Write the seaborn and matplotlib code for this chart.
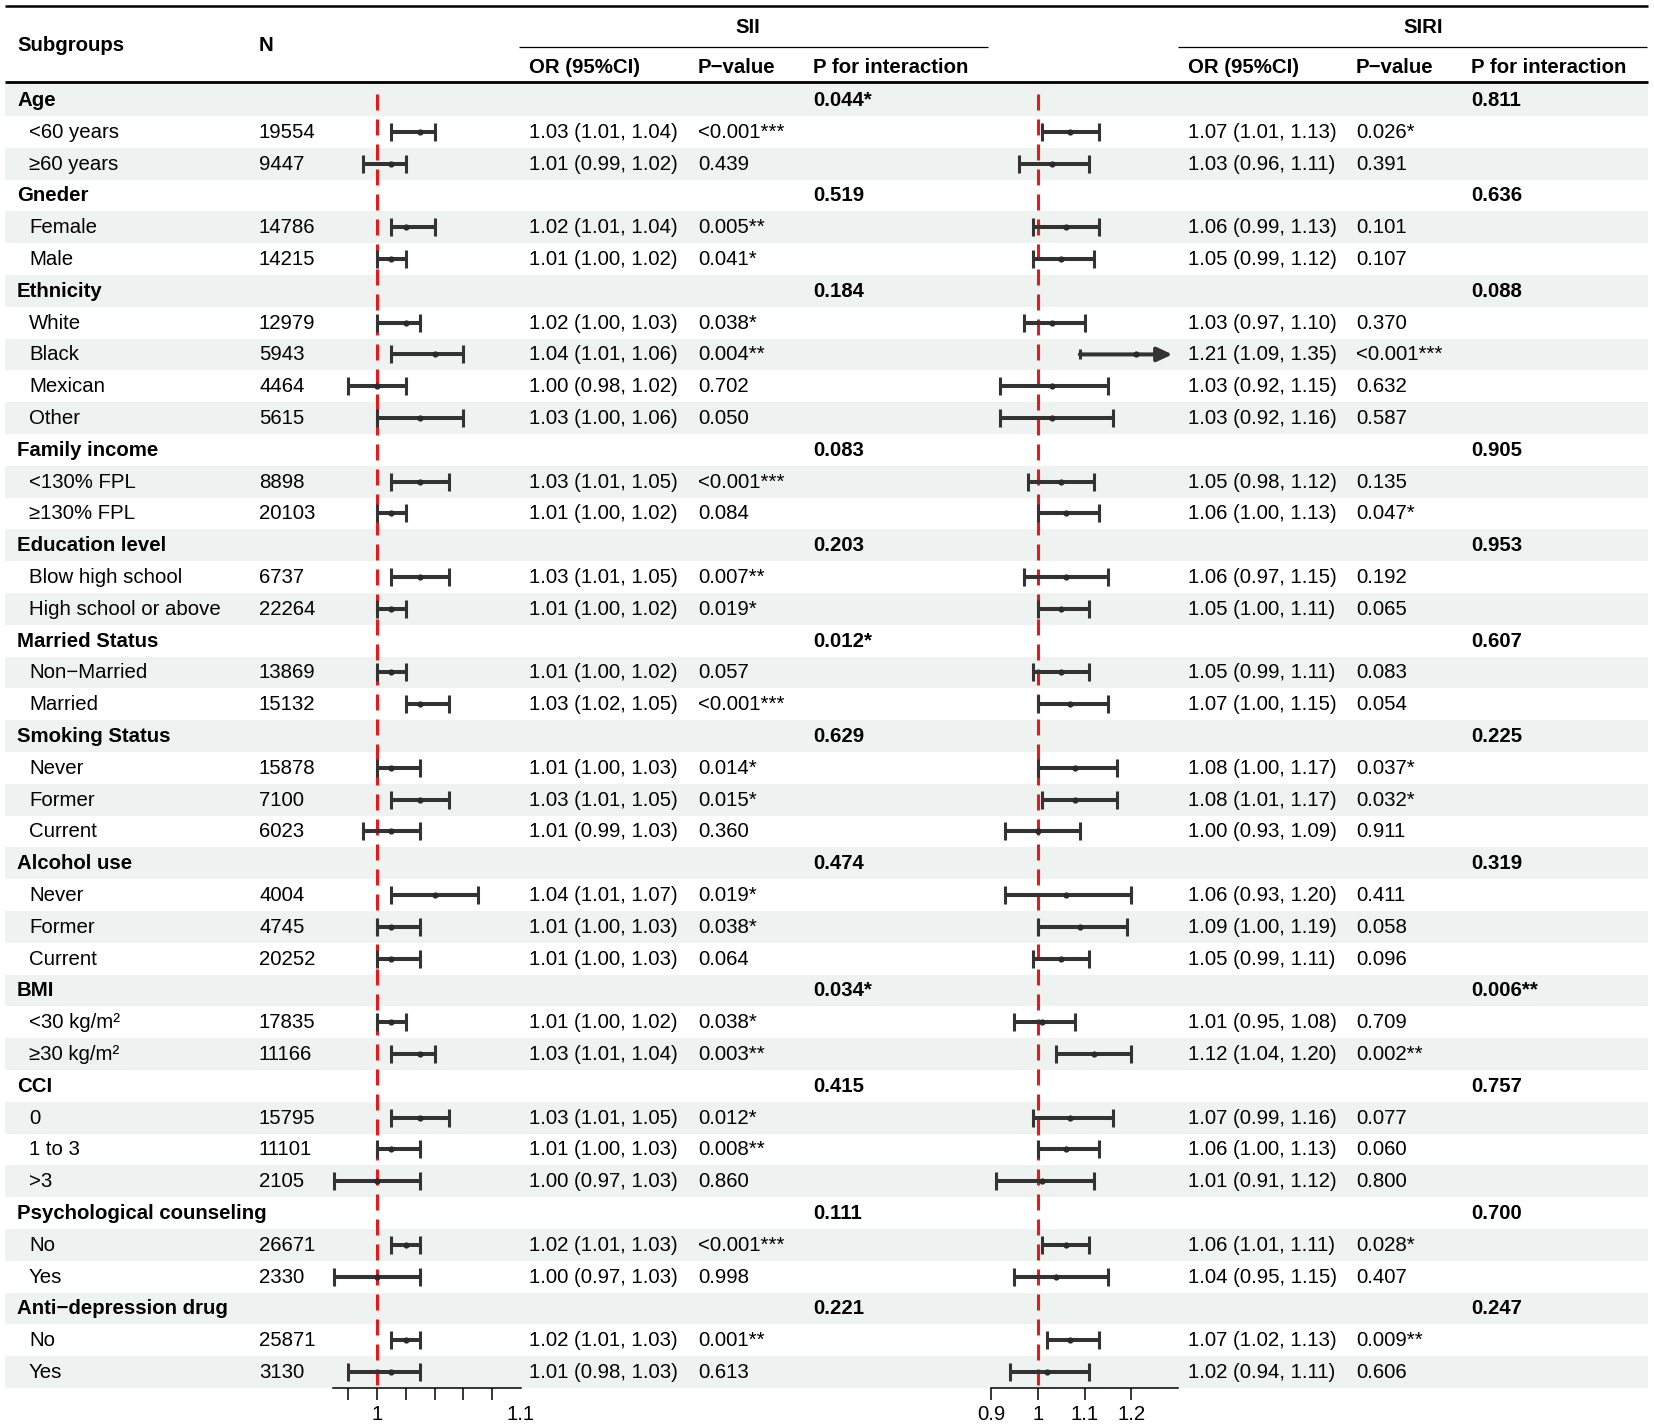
import numpy as np
import pandas as pd
import matplotlib
matplotlib.use("Agg")
import matplotlib.pyplot as plt
import seaborn as sns

# ---------------- data ----------------
subgroups = ["Age", "<60 years", "≥60 years",
             "Gneder", "Female", "Male",
             "Ethnicity", "White", "Black", "Mexican", "Other",
             "Family income", "<130% FPL", "≥130% FPL",
             "Education level", "Blow high school", "High school or above",
             "Married Status", "Non−Married", "Married",
             "Smoking Status", "Never", "Former", "Current",
             "Alcohol use", "Never", "Former", "Current",
             "BMI", "<30 kg/m²", "≥30 kg/m²",
             "CCI", "0", "1 to 3", ">3",
             "Psychological counseling", "No", "Yes",
             "Anti−depression drug", "No", "Yes"]
is_group = [1, 0, 0, 1, 0, 0, 1, 0, 0, 0, 0, 1, 0, 0, 1, 0, 0, 1, 0, 0, 1, 0, 0, 0,
            1, 0, 0, 0, 1, 0, 0, 1, 0, 0, 0, 1, 0, 0, 1, 0, 0]
n_vals = ["", "19554", "9447", "", "14786", "14215", "", "12979", "5943", "4464", "5615",
          "", "8898", "20103", "", "6737", "22264", "", "13869", "15132",
          "", "15878", "7100", "6023", "", "4004", "4745", "20252",
          "", "17835", "11166", "", "15795", "11101", "2105",
          "", "26671", "2330", "", "25871", "3130"]

sii_or = [None, 1.03, 1.01, None, 1.02, 1.01, None, 1.02, 1.04, 1.00, 1.03,
          None, 1.03, 1.01, None, 1.03, 1.01, None, 1.01, 1.03,
          None, 1.01, 1.03, 1.01, None, 1.04, 1.01, 1.01,
          None, 1.01, 1.03, None, 1.03, 1.01, 1.00, None, 1.02, 1.00, None, 1.02, 1.01]
sii_lo = [None, 1.01, 0.99, None, 1.01, 1.00, None, 1.00, 1.01, 0.98, 1.00,
          None, 1.01, 1.00, None, 1.01, 1.00, None, 1.00, 1.02,
          None, 1.00, 1.01, 0.99, None, 1.01, 1.00, 1.00,
          None, 1.00, 1.01, None, 1.01, 1.00, 0.97, None, 1.01, 0.97, None, 1.01, 0.98]
sii_hi = [None, 1.04, 1.02, None, 1.04, 1.02, None, 1.03, 1.06, 1.02, 1.06,
          None, 1.05, 1.02, None, 1.05, 1.02, None, 1.02, 1.05,
          None, 1.03, 1.05, 1.03, None, 1.07, 1.03, 1.03,
          None, 1.02, 1.04, None, 1.05, 1.03, 1.03, None, 1.03, 1.03, None, 1.03, 1.03]
sii_p = ["", "<0.001***", "0.439", "", "0.005**", "0.041*", "", "0.038*", "0.004**", "0.702", "0.050",
         "", "<0.001***", "0.084", "", "0.007**", "0.019*", "", "0.057", "<0.001***",
         "", "0.014*", "0.015*", "0.360", "", "0.019*", "0.038*", "0.064",
         "", "0.038*", "0.003**", "", "0.012*", "0.008**", "0.860",
         "", "<0.001***", "0.998", "", "0.001**", "0.613"]
sii_pint = ["0.044*", "0.519", "0.184", "0.083", "0.203", "0.012*",
            "0.629", "0.474", "0.034*", "0.415", "0.111", "0.221"]

siri_or = [None, 1.07, 1.03, None, 1.06, 1.05, None, 1.03, 1.21, 1.03, 1.03,
           None, 1.05, 1.06, None, 1.06, 1.05, None, 1.05, 1.07,
           None, 1.08, 1.08, 1.00, None, 1.06, 1.09, 1.05,
           None, 1.01, 1.12, None, 1.07, 1.06, 1.01, None, 1.06, 1.04, None, 1.07, 1.02]
siri_lo = [None, 1.01, 0.96, None, 0.99, 0.99, None, 0.97, 1.09, 0.92, 0.92,
           None, 0.98, 1.00, None, 0.97, 1.00, None, 0.99, 1.00,
           None, 1.00, 1.01, 0.93, None, 0.93, 1.00, 0.99,
           None, 0.95, 1.04, None, 0.99, 1.00, 0.91, None, 1.01, 0.95, None, 1.02, 0.94]
siri_hi = [None, 1.13, 1.11, None, 1.13, 1.12, None, 1.10, 1.35, 1.15, 1.16,
           None, 1.12, 1.13, None, 1.15, 1.11, None, 1.11, 1.15,
           None, 1.17, 1.17, 1.09, None, 1.20, 1.19, 1.11,
           None, 1.08, 1.20, None, 1.16, 1.13, 1.12, None, 1.11, 1.15, None, 1.13, 1.11]
siri_p = ["", "0.026*", "0.391", "", "0.101", "0.107", "", "0.370", "<0.001***", "0.632", "0.587",
          "", "0.135", "0.047*", "", "0.192", "0.065", "", "0.083", "0.054",
          "", "0.037*", "0.032*", "0.911", "", "0.411", "0.058", "0.096",
          "", "0.709", "0.002**", "", "0.077", "0.060", "0.800",
          "", "0.028*", "0.407", "", "0.009**", "0.606"]
siri_pint = ["0.811", "0.636", "0.088", "0.905", "0.953", "0.607",
             "0.225", "0.319", "0.006**", "0.757", "0.700", "0.247"]

sii_ticks = [0.98, 1.00, 1.02, 1.04, 1.06, 1.08, 1.10]
sii_ticklabels = ["", "1", "", "", "", "", "1.1"]
siri_ticks = [0.9, 1.0, 1.1, 1.2]
siri_ticklabels = ["0.9", "1", "1.1", "1.2"]

# ---------------- style ----------------
sns.set_theme(style="white")
plt.rcParams['font.family'] = ['Liberation Sans', 'DejaVu Sans']
plt.rcParams['lines.scale_dashes'] = False
plt.rcParams['text.color'] = 'black'
plt.rcParams['xtick.color'] = 'black'

W, H = 1654, 1425
FS = 14.7
SHADE = "#EEF2F0"
INK = "#333333"
RED = "#E41A1C"
TOP = 84.1
ROWH = 31.8
NROW = len(subgroups)

fig = plt.figure(figsize=(W / 100, H / 100), dpi=100)
bg = fig.add_axes([0, 0, 1, 1])
bg.set_xlim(0, W)
bg.set_ylim(H, 0)
bg.axis("off")

def yrow(i):
    return TOP + (i + 0.5) * ROWH

# shading bands
for i in range(NROW):
    if i % 2 == 0:
        bg.fill_between([5, 1648], TOP + i * ROWH, TOP + (i + 1) * ROWH,
                        color=SHADE, linewidth=0, zorder=0)

# rules
bg.hlines(6, 5, 1648, color="black", lw=1.8)
bg.hlines(81.5, 5, 1648, color="black", lw=2.0)
bg.hlines(47, 519, 988, color="black", lw=0.9)
bg.hlines(47, 1178, 1647, color="black", lw=0.9)

# header text
hdr = dict(fontsize=FS, fontweight="bold", va="center", ha="left")
bg.text(17, 45, "Subgroups", **hdr)
bg.text(259, 45, "N", **hdr)
bg.text(748, 27, "SII", fontsize=FS, fontweight="bold", va="center", ha="center")
bg.text(1423, 27, "SIRI", fontsize=FS, fontweight="bold", va="center", ha="center")
for x0, lab in [(529, "OR (95%CI)"), (698, "P−value"), (813, "P for interaction"),
                (1188, "OR (95%CI)"), (1356, "P−value"), (1471, "P for interaction")]:
    bg.text(x0, 67, lab, **hdr)

def arr(v):
    return np.array([np.nan if a is None else a for a in v], dtype=float)

sii_or_a, sii_lo_a, sii_hi_a = arr(sii_or), arr(sii_lo), arr(sii_hi)
siri_or_a, siri_lo_a, siri_hi_a = arr(siri_or), arr(siri_lo), arr(siri_hi)

# table body text
g = 0
for i in range(NROW):
    y = yrow(i) + 0.5
    if is_group[i]:
        bg.text(17, y, subgroups[i], fontsize=FS, fontweight="bold", va="center", ha="left")
        bg.text(813, y, sii_pint[g], fontsize=FS, fontweight="bold", va="center", ha="left")
        bg.text(1471, y, siri_pint[g], fontsize=FS, fontweight="bold", va="center", ha="left")
        g += 1
    else:
        bg.text(29, y, subgroups[i], fontsize=FS, va="center", ha="left")
        bg.text(259, y, n_vals[i], fontsize=FS, va="center", ha="left")
        bg.text(529, y, f"{sii_or_a[i]:.2f} ({sii_lo_a[i]:.2f}, {sii_hi_a[i]:.2f})",
                fontsize=FS, va="center", ha="left")
        bg.text(698, y, sii_p[i], fontsize=FS, va="center", ha="left")
        bg.text(1188, y, f"{siri_or_a[i]:.2f} ({siri_lo_a[i]:.2f}, {siri_hi_a[i]:.2f})",
                fontsize=FS, va="center", ha="left")
        bg.text(1356, y, siri_p[i], fontsize=FS, va="center", ha="left")

# ---------------- forest panels ----------------
ax_bottom = 1 - 1388 / H
ax_height = (1388 - TOP) / H

def forest(x0, x1, est, lo, hi, xmin, xmax, ticks, ticklabels, hide_last_tick):
    ax = fig.add_axes([x0 / W, ax_bottom, (x1 - x0) / W, ax_height])
    ax.patch.set_alpha(0)
    rows = np.arange(NROW)
    mask = ~np.isnan(est)
    clipped = mask & (hi > xmax)
    normal = mask & ~clipped
    ax.errorbar(est[normal], rows[normal],
                xerr=[est[normal] - lo[normal], hi[normal] - est[normal]],
                fmt="none", ecolor=INK, elinewidth=2.9, capsize=6.7, capthick=2.2,
                zorder=3, clip_on=False)
    for r in rows[clipped]:
        ax.annotate("", xy=(xmax - 0.012, r), xytext=(lo[r], r),
                    arrowprops=dict(arrowstyle="-|>,head_length=0.6,head_width=0.28",
                                    lw=2.9, color=INK, shrinkA=0, shrinkB=0,
                                    mutation_scale=15), zorder=3)
        ax.plot([lo[r]], [r], marker="|", ms=6.7, mew=2.2, color=INK, zorder=3)
    df = pd.DataFrame({"est": est[mask], "row": rows[mask]})
    sns.scatterplot(data=df, x="est", y="row", ax=ax, color="#2a2a2a", s=20, marker="o",
                    linewidth=0, zorder=4, legend=False, clip_on=False)
    ax.vlines(1.0, -0.2, NROW - 0.5, color=RED, lw=2.2, linestyles=(0, (11.5, 6.5)),
              zorder=2)
    ax.set_xlim(xmin, xmax)
    ax.set_ylim(NROW - 0.5, -0.5)
    ax.set_xlabel("")
    ax.set_ylabel("")
    ax.set_yticks([])
    for s in ["left", "right", "top"]:
        ax.spines[s].set_visible(False)
    ax.spines["bottom"].set_color("black")
    ax.spines["bottom"].set_linewidth(1.1)
    ax.set_xticks(ticks)
    ax.set_xticklabels(ticklabels)
    ax.tick_params(axis="x", bottom=True, direction="out", length=8.6, width=1.1,
                   color="black", labelsize=FS, pad=3.5, labelcolor="black")
    if hide_last_tick:
        ax.xaxis.get_major_ticks()[-1].tick1line.set_visible(False)
    return ax

forest(333, 521, sii_or_a, sii_lo_a, sii_hi_a, 0.9694, 1.10,
       sii_ticks, sii_ticklabels, True)
forest(991, 1178, siri_or_a, siri_lo_a, siri_hi_a, 0.90, 1.30,
       siri_ticks, siri_ticklabels, False)

fig.savefig("out.png", dpi=100)
